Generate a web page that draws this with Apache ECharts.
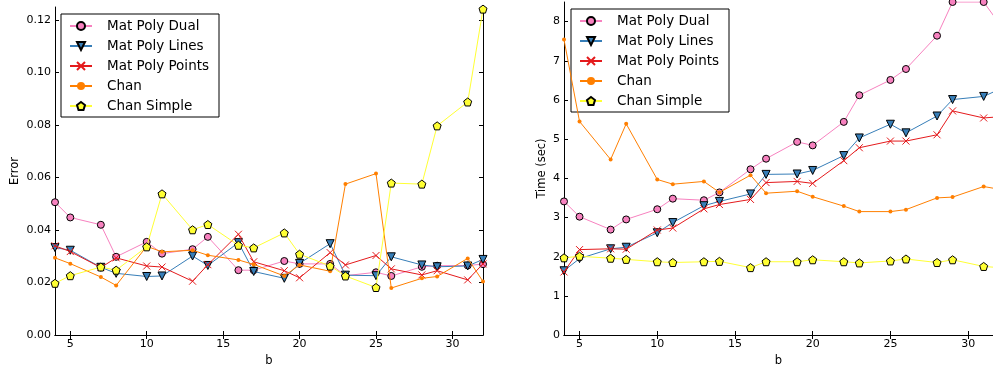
<!DOCTYPE html>
<html>
<head>
<meta charset="utf-8">
<script src="https://cdn.jsdelivr.net/npm/echarts@6/dist/echarts.min.js"></script>
<style>
  html, body { margin: 0; padding: 0; background: #fff; }
  #chart { width: 993px; height: 372px; }
</style>
</head>
<body>
<div id="chart"></div>
<script>
// x 轴取值 (b)
var bValues = [4, 5, 7, 8, 10, 11, 13, 14, 16, 17, 19, 20, 22, 23, 25, 26, 28, 29, 31, 32];

// 左图：误差
var errDual = [0.0506, 0.0448, 0.0420, 0.0298, 0.0355, 0.0310, 0.0327, 0.0374, 0.0247, 0.0247, 0.0282, 0.0271, 0.0271, 0.0226, 0.0239, 0.0225, 0.0260, 0.0264, 0.0265, 0.0270];
var errLines = [0.0333, 0.0323, 0.0258, 0.0235, 0.0223, 0.0225, 0.0301, 0.0265, 0.0352, 0.0242, 0.0216, 0.0273, 0.0348, 0.0228, 0.0226, 0.0298, 0.0267, 0.0260, 0.0263, 0.0288];
var errPoints = [0.0340, 0.0318, 0.0257, 0.0294, 0.0263, 0.0259, 0.0205, 0.0268, 0.0384, 0.0279, 0.0245, 0.0218, 0.0314, 0.0267, 0.0303, 0.0252, 0.0229, 0.0245, 0.0210, 0.0271];
var errChan = [0.0294, 0.0272, 0.0221, 0.0189, 0.0338, 0.0317, 0.0323, 0.0304, 0.0286, 0.0269, 0.0225, 0.0267, 0.0243, 0.0575, 0.0615, 0.0179, 0.0216, 0.0223, 0.0292, 0.0204];
var errChanSimple = [0.0197, 0.0226, 0.0259, 0.0247, 0.0336, 0.0538, 0.0401, 0.0421, 0.0342, 0.0332, 0.0389, 0.0308, 0.0263, 0.0225, 0.0181, 0.0579, 0.0575, 0.0797, 0.0888, 0.1242];

// 右图：时间 (sec)
var timeDual = [3.41, 3.02, 2.69, 2.95, 3.21, 3.48, 3.44, 3.64, 4.23, 4.50, 4.93, 4.84, 5.44, 6.12, 6.51, 6.79, 7.64, 8.50, 8.50, 7.95];
var timeLines = [1.64, 1.95, 2.20, 2.24, 2.61, 2.87, 3.30, 3.41, 3.60, 4.10, 4.11, 4.20, 4.58, 5.03, 5.38, 5.16, 5.59, 6.01, 6.09, 6.27];
var timePoints = [1.61, 2.18, 2.20, 2.19, 2.68, 2.73, 3.22, 3.33, 3.46, 3.89, 3.92, 3.87, 4.45, 4.78, 4.95, 4.95, 5.11, 5.72, 5.54, 5.57];
var timeChan = [7.54, 5.45, 4.48, 5.39, 3.97, 3.85, 3.92, 3.64, 4.08, 3.62, 3.67, 3.53, 3.29, 3.15, 3.15, 3.20, 3.50, 3.52, 3.79, 3.72];
var timeChanSimple = [1.97, 2.01, 1.96, 1.93, 1.87, 1.85, 1.87, 1.88, 1.72, 1.87, 1.87, 1.92, 1.87, 1.84, 1.89, 1.94, 1.85, 1.92, 1.75, 1.72];

// 刻度
var bTicks = [5, 10, 15, 20, 25, 30];
var errTicks = [0, 0.02, 0.04, 0.06, 0.08, 0.10, 0.12];
var timeTicks = [0, 1, 2, 3, 4, 5, 6, 7, 8];

var seriesNames = ['Mat Poly Dual', 'Mat Poly Lines', 'Mat Poly Points', 'Chan', 'Chan Simple'];

var FONT = 'DejaVu Sans';

// 每条线的样式
var styles = [
    { color: '#f781bf', symbol: 'circle', size: 7, border: '#000' },
    { color: '#377eb8', symbol: 'path://M0,0 L10,0 L5,9 Z', size: 8, border: '#000' },
    { color: '#e41a1c', symbol: 'path://M0,0 L10,10 M10,0 L0,10', size: 7, border: null },
    { color: '#ff7f00', symbol: 'circle', size: 4, border: null },
    { color: '#ffff33', symbol: 'path://M5,0 L9.76,3.45 L7.94,9 L2.06,9 L0.24,3.45 Z', size: 8, border: '#000' }
];

function pairs(ys) {
    var out = [];
    for (var i = 0; i < bValues.length; i++) {
        out.push([bValues[i], ys[i]]);
    }
    return out;
}

function makeSeries(idx, ys, gridIdx) {
    var s = styles[idx];
    var itemStyle;
    if (idx === 2) {
        itemStyle = { color: 'none', borderColor: s.color, borderWidth: 1 };
    } else if (s.border) {
        itemStyle = { color: s.color, borderColor: s.border, borderWidth: 1 };
    } else {
        itemStyle = { color: s.color, borderWidth: 0 };
    }
    return {
        name: seriesNames[idx],
        type: 'line',
        xAxisIndex: gridIdx * 2,
        yAxisIndex: gridIdx * 2,
        data: pairs(ys),
        symbol: s.symbol,
        symbolSize: s.size,
        showAllSymbol: true,
        animation: false,
        lineStyle: { color: s.color, width: 1 },
        itemStyle: itemStyle,
        z: 2 + idx
    };
}

function xAxes(gridIdx, maxVal) {
    var base = {
        type: 'value', gridIndex: gridIdx, min: 4, max: maxVal,
        axisLine: { show: true, lineStyle: { color: '#000', width: 1 } },
        axisTick: { show: true, inside: true, length: 4, lineStyle: { color: '#000' }, customValues: bTicks },
        splitLine: { show: false }
    };
    var bottom = Object.assign({}, base, {
        position: 'bottom',
        name: 'b', nameLocation: 'middle', nameGap: 20,
        nameTextStyle: { fontFamily: FONT, fontSize: 11.5, color: '#000' },
        axisLabel: { show: true, margin: 4, fontFamily: FONT, fontSize: 11, color: '#000', customValues: bTicks }
    });
    var top = Object.assign({}, base, { position: 'top', axisLabel: { show: false } });
    return [bottom, top];
}

function yAxes(gridIdx, maxVal, ticks, name, gap, fmt, showRight) {
    var base = {
        type: 'value', gridIndex: gridIdx, min: 0, max: maxVal,
        axisLine: { show: true, lineStyle: { color: '#000', width: 1 } },
        axisTick: { show: true, inside: true, length: 4, lineStyle: { color: '#000' }, customValues: ticks },
        splitLine: { show: false }
    };
    var left = Object.assign({}, base, {
        position: 'left',
        name: name, nameLocation: 'middle', nameGap: gap,
        nameTextStyle: { fontFamily: FONT, fontSize: 11.5, color: '#000' },
        axisLabel: { show: true, margin: 4, fontFamily: FONT, fontSize: 11, color: '#000', customValues: ticks, formatter: fmt }
    });
    var right = Object.assign({}, base, { position: 'right', show: showRight, axisLabel: { show: false } });
    return [left, right];
}

function makeLegend(gridIdx, left, top) {
    return {
        show: true,
        orient: 'vertical',
        left: left,
        top: top,
        data: seriesNames,
        itemWidth: 22,
        itemHeight: 10,
        itemGap: 6,
        padding: [5, 10, 4, 8],
        borderColor: '#000',
        borderWidth: 1,
        backgroundColor: '#fff',
        borderRadius: 0,
        selectedMode: false,
        textStyle: { fontFamily: FONT, fontSize: 13.5, color: '#000', padding: [0, 0, 0, 10] }
    };
}

var chart = echarts.init(document.getElementById('chart'), null, { renderer: 'canvas' });

var errSets = [errDual, errLines, errPoints, errChan, errChanSimple];
var timeSets = [timeDual, timeLines, timePoints, timeChan, timeChanSimple];
var series = [];
for (var i = 0; i < 5; i++) series.push(makeSeries(i, errSets[i], 0));
for (var j = 0; j < 5; j++) series.push(makeSeries(j, timeSets[j], 1));

// 右图在画布右边被截断，x 只显示到约 31.6
var option = {
    backgroundColor: '#fff',
    animation: false,
    grid: [
        { left: 55, right: 510, top: 7, bottom: 33 },
        { left: 564, right: 0, top: 2, bottom: 34 }
    ],
    xAxis: xAxes(0, 32).concat(xAxes(1, 31.6)),
    yAxis: yAxes(0, 0.125, errTicks, 'Error', 34, function (v) { return v.toFixed(2); }, true)
        .concat(yAxes(1, 8.5, timeTicks, 'Time (sec)', 16, function (v) { return String(v); }, false)),
    legend: [makeLegend(0, 61, 14), makeLegend(1, 571, 9)],
    series: series
};

chart.setOption(option);
</script>
</body>
</html>
